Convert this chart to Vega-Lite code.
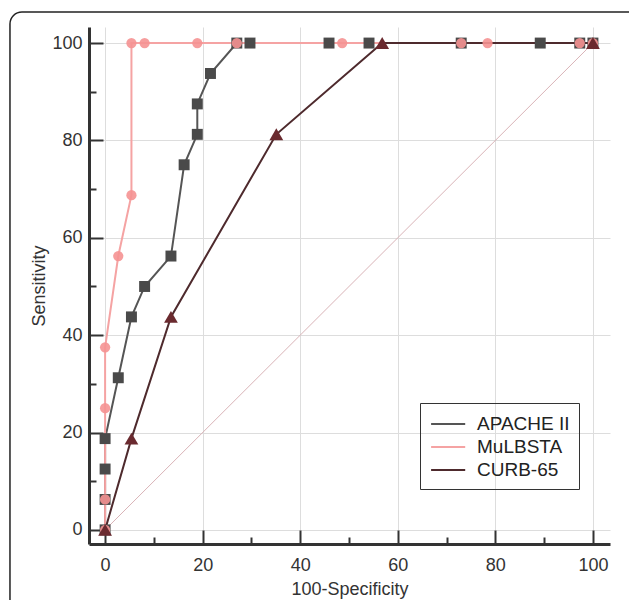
{
  "$schema": "https://vega.github.io/schema/vega-lite/v6.json",
  "autosize": "none",
  "width": 521,
  "height": 517,
  "padding": {"left": 89, "top": 27, "right": 19, "bottom": 56},
  "background": "white",
  "config": {
    "view": {"stroke": null},
    "font": "Liberation Sans",
    "axis": {"labelFont": "Liberation Sans", "titleFont": "Liberation Sans"}
  },
  "datasets": {
    "frame": [{"x1": -19.5, "x2": 112, "y1": -20, "y2": 106.4}],
    "diag": [{"fpr": 0, "sens": 0}, {"fpr": 100, "sens": 100}],
    "roc": [
      {"series": "APACHE II", "fpr": 0, "sens": 0},
      {"series": "APACHE II", "fpr": 0, "sens": 6.25},
      {"series": "APACHE II", "fpr": 0, "sens": 12.5},
      {"series": "APACHE II", "fpr": 0, "sens": 18.75},
      {"series": "APACHE II", "fpr": 2.7, "sens": 31.25},
      {"series": "APACHE II", "fpr": 5.4, "sens": 43.75},
      {"series": "APACHE II", "fpr": 8.1, "sens": 50},
      {"series": "APACHE II", "fpr": 13.5, "sens": 56.25},
      {"series": "APACHE II", "fpr": 16.2, "sens": 75},
      {"series": "APACHE II", "fpr": 18.9, "sens": 81.25},
      {"series": "APACHE II", "fpr": 18.9, "sens": 87.5},
      {"series": "APACHE II", "fpr": 21.6, "sens": 93.75},
      {"series": "APACHE II", "fpr": 27, "sens": 100},
      {"series": "APACHE II", "fpr": 29.7, "sens": 100},
      {"series": "APACHE II", "fpr": 45.9, "sens": 100},
      {"series": "APACHE II", "fpr": 54.1, "sens": 100},
      {"series": "APACHE II", "fpr": 73, "sens": 100},
      {"series": "APACHE II", "fpr": 89.2, "sens": 100},
      {"series": "APACHE II", "fpr": 97.3, "sens": 100},
      {"series": "APACHE II", "fpr": 100, "sens": 100},
      {"series": "MuLBSTA", "fpr": 0, "sens": 0},
      {"series": "MuLBSTA", "fpr": 0, "sens": 6.25},
      {"series": "MuLBSTA", "fpr": 0, "sens": 25},
      {"series": "MuLBSTA", "fpr": 0, "sens": 37.5},
      {"series": "MuLBSTA", "fpr": 2.7, "sens": 56.25},
      {"series": "MuLBSTA", "fpr": 5.4, "sens": 68.75},
      {"series": "MuLBSTA", "fpr": 5.4, "sens": 100},
      {"series": "MuLBSTA", "fpr": 8.1, "sens": 100},
      {"series": "MuLBSTA", "fpr": 18.9, "sens": 100},
      {"series": "MuLBSTA", "fpr": 27, "sens": 100},
      {"series": "MuLBSTA", "fpr": 48.6, "sens": 100},
      {"series": "MuLBSTA", "fpr": 73, "sens": 100},
      {"series": "MuLBSTA", "fpr": 78.4, "sens": 100},
      {"series": "MuLBSTA", "fpr": 97.3, "sens": 100},
      {"series": "MuLBSTA", "fpr": 100, "sens": 100},
      {"series": "CURB-65", "fpr": 0, "sens": 0},
      {"series": "CURB-65", "fpr": 5.4, "sens": 18.75},
      {"series": "CURB-65", "fpr": 13.5, "sens": 43.75},
      {"series": "CURB-65", "fpr": 35.1, "sens": 81.25},
      {"series": "CURB-65", "fpr": 56.8, "sens": 100},
      {"series": "CURB-65", "fpr": 100, "sens": 100}
    ]
  },
  "layer": [
    {
      "data": {"name": "frame"},
      "mark": {"type": "rect", "fill": null, "stroke": "#222222", "strokeWidth": 1.5, "cornerRadius": 12, "clip": false},
      "encoding": {
        "x": {
          "field": "x1", "type": "quantitative",
          "scale": {"domain": [-3.3, 103.5], "nice": false, "zero": false},
          "axis": {
            "title": "100-Specificity",
            "orient": "bottom",
            "values": [0,5,10,15,20,25,30,35,40,45,50,55,60,65,70,75,80,85,90,95,100],
            "labelExpr": "datum.value % 20 === 0 ? datum.label : ''",
            "tickSize": {"condition": {"test": "datum.value % 20 === 0", "value": -14}, "value": -7},
            "tickColor": "#333333",
            "tickWidth": 2,
            "domainColor": "#333333",
            "domainWidth": 3,
            "grid": true,
            "gridColor": "#dddddd",
            "gridOpacity": {"condition": {"test": "datum.value % 20 === 0", "value": 1}, "value": 0},
            "labelFontSize": 18,
            "labelColor": "#333333",
            "labelPadding": 26,
            "titleFontSize": 18,
            "titleFontWeight": "normal",
            "titleColor": "#333333",
            "titlePadding": 6
          }
        },
        "x2": {"field": "x2"},
        "y": {
          "field": "y1", "type": "quantitative",
          "scale": {"domain": [-2.9, 103.3], "nice": false, "zero": false},
          "axis": {
            "title": "Sensitivity",
            "orient": "left",
            "values": [0,5,10,15,20,25,30,35,40,45,50,55,60,65,70,75,80,85,90,95,100],
            "labelExpr": "datum.value % 20 === 0 ? datum.label : ''",
            "tickSize": {"condition": {"test": "datum.value % 20 === 0", "value": -14}, "value": -7},
            "tickColor": "#333333",
            "tickWidth": 2,
            "domainColor": "#333333",
            "domainWidth": 3,
            "grid": true,
            "gridColor": "#dddddd",
            "gridOpacity": {"condition": {"test": "datum.value % 20 === 0", "value": 1}, "value": 0},
            "labelFontSize": 18,
            "labelColor": "#333333",
            "labelPadding": 21,
            "titleFontSize": 18,
            "titleFontWeight": "normal",
            "titleColor": "#333333",
            "titlePadding": 3
          }
        },
        "y2": {"field": "y2"}
      }
    },
    {
      "data": {"name": "diag"},
      "mark": {"type": "line", "color": "#d9b3b7", "strokeWidth": 1},
      "encoding": {
        "x": {"field": "fpr", "type": "quantitative"},
        "y": {"field": "sens", "type": "quantitative"}
      }
    },
    {
      "data": {"name": "roc"},
      "mark": {"type": "line", "strokeWidth": 2},
      "encoding": {
        "x": {"field": "fpr", "type": "quantitative"},
        "y": {"field": "sens", "type": "quantitative"},
        "order": [{"field": "fpr"}, {"field": "sens"}],
        "color": {
          "field": "series", "type": "nominal",
          "scale": {"domain": ["APACHE II", "MuLBSTA", "CURB-65"], "range": ["#555555", "#f5a3a3", "#4e2a2d"]},
          "legend": {
            "title": null,
            "orient": "none",
            "legendX": 331,
            "legendY": 376,
            "symbolType": "M-0.9,0H2.2",
            "symbolSize": 484,
            "symbolStrokeWidth": 2,
            "labelFontSize": 19,
            "labelColor": "#222222",
            "labelOffset": 24,
            "padding": 9,
            "strokeColor": "#333333",
            "rowPadding": 1
          }
        }
      }
    },
    {
      "data": {"name": "roc"},
      "transform": [{"filter": "datum.series === 'APACHE II'"}],
      "mark": {"type": "point", "filled": true, "shape": "square", "size": 120, "color": "#4a4a4a", "opacity": 1},
      "encoding": {
        "x": {"field": "fpr", "type": "quantitative"},
        "y": {"field": "sens", "type": "quantitative"}
      }
    },
    {
      "data": {"name": "roc"},
      "transform": [{"filter": "datum.series === 'MuLBSTA'"}],
      "mark": {"type": "point", "filled": true, "shape": "circle", "size": 105, "color": "#f59292", "opacity": 0.9},
      "encoding": {
        "x": {"field": "fpr", "type": "quantitative"},
        "y": {"field": "sens", "type": "quantitative"}
      }
    },
    {
      "data": {"name": "roc"},
      "transform": [{"filter": "datum.series === 'CURB-65'"}],
      "mark": {"type": "point", "filled": true, "shape": "triangle-up", "size": 190, "color": "#6a2a2f", "opacity": 1},
      "encoding": {
        "x": {"field": "fpr", "type": "quantitative"},
        "y": {"field": "sens", "type": "quantitative"}
      }
    }
  ]
}
